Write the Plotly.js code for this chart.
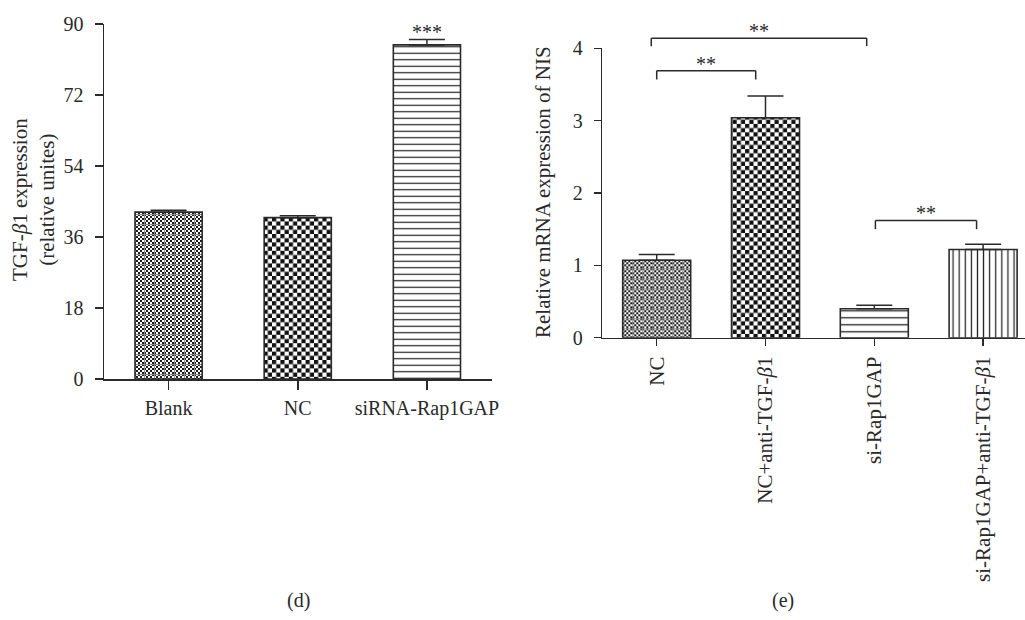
<!DOCTYPE html>
<html>
<head>
<meta charset="utf-8">
<script src="https://cdn.plot.ly/plotly-3.0.1.min.js"></script>
<style>html,body{margin:0;padding:0;background:#fff;} #chart{width:1025px;height:620px;}</style>
</head>
<body>
<div id="chart"></div>
<script>
// ---- data (d) ----
const leftCats = ['Blank', 'NC', 'siRNA-Rap1GAP'];
const leftVals = [42.3, 40.9, 84.7];
const leftErr = [0.5, 0.5, 1.4];
const leftTicks = [0, 18, 36, 54, 72, 90];
const leftSig = '***';

// ---- data (e) ----
const rightCats = ['NC', 'NC+anti-TGF-<i>β</i>1', 'si-Rap1GAP', 'si-Rap1GAP+anti-TGF-<i>β</i>1'];
const rightVals = [1.07, 3.04, 0.40, 1.22];
const rightErr = [0.08, 0.30, 0.05, 0.07];
const rightTicks = [0, 1, 2, 3, 4];
// brackets: x start, x end, top value, leg bottom value, label
const bracketX0 = [0, -0.05, 2.01];
const bracketX1 = [0.91, 1.93, 2.94];
const bracketTop = [3.69, 4.14, 1.62];
const bracketLow = [3.57, 4.03, 1.50];
const bracketLabel = ['**', '**', '**'];

const FONT = 'Liberation Serif, DejaVu Serif, serif';
const INK = '#2a2a2a';
const FINE = 10, COARSE = 8.4;

const leftTrace = {
  type: 'bar', x: leftCats, y: leftVals, xaxis: 'x', yaxis: 'y', width: 0.52,
  marker: {
    color: '#ffffff',
    line: {color: INK, width: 1.6},
    pattern: {shape: ['.', '.', '-'], size: [FINE, COARSE, 6.5], solidity: [0.5, 0.5, 0.18], fgcolor: '#1a1a1a', bgcolor: '#ffffff'}
  },
  error_y: {type: 'data', symmetric: false, array: leftErr, arrayminus: leftErr.map(() => 0), color: INK, thickness: 1.5, width: 18},
  hoverinfo: 'none'
};
const rightTrace = {
  type: 'bar', x: rightCats, y: rightVals, xaxis: 'x2', yaxis: 'y2', width: 0.625,
  marker: {
    color: '#ffffff',
    line: {color: INK, width: 1.6},
    pattern: {shape: ['.', '.', '-', '|'], size: [FINE, COARSE, 7, 6.1], solidity: [0.5, 0.5, 0.18, 0.2], fgcolor: '#1a1a1a', bgcolor: '#ffffff'}
  },
  error_y: {type: 'data', symmetric: false, array: rightErr, arrayminus: rightErr.map(() => 0), color: INK, thickness: 1.5, width: 18},
  hoverinfo: 'none'
};

const W = 1025, H = 620;
const yMaxR = rightTicks[rightTicks.length - 1];

const shapes = [];
const annotations = [];
for (let i = 0; i < bracketTop.length; i++) {
  const t = bracketTop[i] / yMaxR, l = bracketLow[i] / yMaxR;
  const base = {type: 'line', xref: 'x2', yref: 'y2 domain', line: {color: INK, width: 1.5}};
  shapes.push(Object.assign({}, base, {x0: bracketX0[i], x1: bracketX1[i], y0: t, y1: t}));
  shapes.push(Object.assign({}, base, {x0: bracketX0[i], x1: bracketX0[i], y0: l, y1: t}));
  shapes.push(Object.assign({}, base, {x0: bracketX1[i], x1: bracketX1[i], y0: l, y1: t}));
  annotations.push({xref: 'x2', yref: 'y2 domain', x: (bracketX0[i] + bracketX1[i]) / 2, y: t,
    text: bracketLabel[i], showarrow: false, xanchor: 'center', yanchor: 'bottom', yshift: -6,
    font: {family: FONT, size: 20, color: INK}});
}
annotations.push({xref: 'x', yref: 'y', x: leftCats[2], y: leftVals[2] + leftErr[2], text: leftSig,
  showarrow: false, xanchor: 'center', yanchor: 'bottom', yshift: -6, font: {family: FONT, size: 20, color: INK}});
annotations.push({xref: 'paper', yref: 'paper', x: 34 / W, y: 1 - 200 / H, textangle: -90,
  text: 'TGF-<i>β</i>1 expression<br>(relative unites)', showarrow: false, xanchor: 'center', yanchor: 'middle',
  font: {family: FONT, size: 21, color: INK}});
annotations.push({xref: 'paper', yref: 'paper', x: 543 / W, y: 1 - 192 / H, textangle: -90,
  text: 'Relative mRNA expression of NIS', showarrow: false, xanchor: 'center', yanchor: 'middle',
  font: {family: FONT, size: 21, color: INK}});
annotations.push({xref: 'paper', yref: 'paper', x: 298 / W, y: 1 - 600 / H, text: '(d)', showarrow: false,
  xanchor: 'center', yanchor: 'middle', font: {family: FONT, size: 20, color: INK}});
annotations.push({xref: 'paper', yref: 'paper', x: 783 / W, y: 1 - 600 / H, text: '(e)', showarrow: false,
  xanchor: 'center', yanchor: 'middle', font: {family: FONT, size: 20, color: INK}});

const axCommon = {showgrid: false, zeroline: false, showline: true, linecolor: INK, linewidth: 1.5,
  ticks: 'outside', tickcolor: INK, tickwidth: 1.5, tickfont: {family: FONT, size: 20, color: INK}, fixedrange: true};

const layout = {
  width: W, height: H, margin: {l: 0, r: 0, t: 0, b: 0},
  paper_bgcolor: '#ffffff', plot_bgcolor: '#ffffff', showlegend: false, bargap: 0,
  font: {family: FONT, color: INK},
  xaxis: Object.assign({}, axCommon, {domain: [104 / W, 491.5 / W], range: [-0.5, 2.5], type: 'category', ticklen: 9, ticklabelstandoff: 1, anchor: 'y'}),
  yaxis: Object.assign({}, axCommon, {domain: [1 - 379 / H, 1 - 24 / H], range: [0, 90], tickvals: leftTicks, ticklen: 8, ticklabelstandoff: 7, anchor: 'x'}),
  xaxis2: Object.assign({}, axCommon, {domain: [602.3 / W, 1], range: [-0.5, 3.385], type: 'category', ticklen: 7, tickangle: -90, ticklabelstandoff: 2,
    tickfont: {family: FONT, size: 21, color: INK}, anchor: 'y2'}),
  yaxis2: Object.assign({}, axCommon, {domain: [1 - 337.7 / H, 1 - 48.3 / H], range: [0, yMaxR], tickvals: rightTicks, ticklen: 7, ticklabelstandoff: 7, anchor: 'x2'}),
  shapes: shapes,
  annotations: annotations
};

// turn the dot tiles of the bar fills into checkerboard tiles
function checkerTiles(gd) {
  const NS = 'http://www.w3.org/2000/svg';
  const addRect = (p, x, y, w, h, fill) => {
    const r = document.createElementNS(NS, 'rect');
    r.setAttribute('x', x); r.setAttribute('y', y);
    r.setAttribute('width', w); r.setAttribute('height', h);
    r.setAttribute('fill', fill);
    p.appendChild(r);
  };
  gd.querySelectorAll('pattern').forEach(p => {
    const c = p.querySelector('circle');
    if (!c) return;
    const w = parseFloat(p.getAttribute('width'));
    c.remove();
    if (w > 9) {
      const cell = w / 5;
      for (let i = 0; i < 5; i++) for (let j = 0; j < 5; j++)
        if ((i + j) % 2 === 0) addRect(p, i * cell, j * cell, cell, cell, '#1c1c1c');
      addRect(p, 0, 0, w, 1.1, '#8c8c8c');
      addRect(p, 0, 0, 1.1, w, '#8c8c8c');
    } else {
      const h = w / 2;
      addRect(p, 0, 0, h, h, '#111111');
      addRect(p, h, h, h, h, '#111111');
    }
  });
}

Plotly.newPlot('chart', [leftTrace, rightTrace], layout, {staticPlot: true, displayModeBar: false})
  .then(checkerTiles);
</script>
</body>
</html>
